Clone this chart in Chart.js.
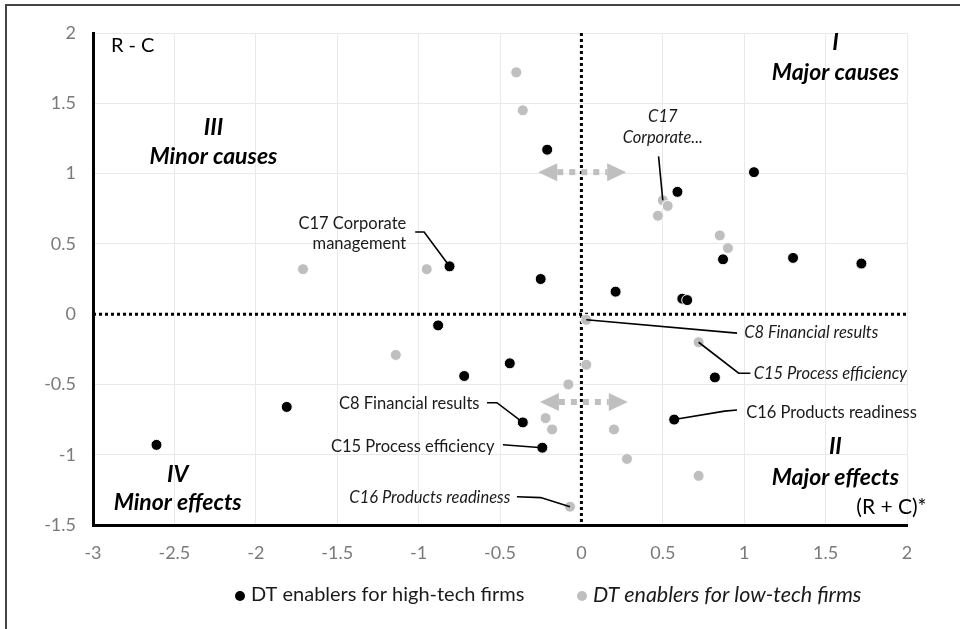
<!DOCTYPE html>
<html>
<head>
<meta charset="utf-8">
<title>DT enablers – cause/effect diagram</title>
<script src="https://cdn.jsdelivr.net/npm/chart.js@4/dist/chart.umd.min.js"></script>
<style>
  html, body { margin: 0; padding: 0; background: #fff; }
  #wrap { position: relative; width: 960px; height: 629px; }
</style>
</head>
<body>
<div id="wrap"><canvas id="c"></canvas></div>
<script>
// ----- data: (R + C) on x, (R - C) on y -----
const highTechX = [-0.21, -0.81, -0.25, 0.21, 0.59, 1.06, 0.87, 1.30, 1.72, 0.62,
                   0.65, -0.88, -0.44, -0.72, -0.36, -0.24, 0.82, 0.57, -2.61, -1.81];
const highTechY = [1.17, 0.34, 0.25, 0.16, 0.87, 1.01, 0.39, 0.40, 0.36, 0.11,
                   0.10, -0.08, -0.35, -0.44, -0.77, -0.95, -0.45, -0.75, -0.93, -0.66];

const lowTechX = [-0.40, -0.36, -0.95, -1.71, 0.50, 0.53, 0.47, 0.85, 0.90, 0.03,
                  -1.14, 0.03, -0.08, -0.22, -0.18, 0.20, -0.07, 0.72, 0.28, 0.72];
const lowTechY = [1.72, 1.45, 0.32, 0.32, 0.81, 0.77, 0.70, 0.56, 0.47, -0.04,
                  -0.29, -0.36, -0.50, -0.74, -0.82, -0.82, -1.37, -0.20, -1.03, -1.15];

const seriesNames = ['DT enablers for high-tech firms', 'DT enablers for low-tech firms'];

const xTickValues = [-3, -2.5, -2, -1.5, -1, -0.5, 0, 0.5, 1, 1.5, 2];
const xTickLabels = ['-3', '-2.5', '-2', '-1.5', '-1', '-0.5', '0', '0.5', '1', '1.5', '2'];
const yTickValues = [-1.5, -1, -0.5, 0, 0.5, 1, 1.5, 2];
const yTickLabels = ['-1.5', '-1', '-0.5', '0', '0.5', '1', '1.5', '2'];

// quadrant captions (centre, in data units)
const quadrantLabels = [
  { lines: ['I', 'Major causes'],   x: 1.56,  y: [1.93, 1.72] },
  { lines: ['III', 'Minor causes'], x: -2.26, y: [1.33, 1.12] },
  { lines: ['II', 'Major effects'], x: 1.56,  y: [-0.94, -1.16] },
  { lines: ['IV', 'Minor effects'], x: -2.48, y: [-1.14, -1.34] }
];

// callouts: text anchor + leader path (data units)
const callouts = [
  { lines: ['C17 Corporate', 'management'], italic: false, align: 'right',
    x: -1.076, y: [0.643, 0.50],
    path: [[-1.021, 0.584], [-0.966, 0.584], [-0.81, 0.34]] },
  { lines: ['C17', 'Corporate...'], italic: true, align: 'center',
    x: 0.50, y: [1.407, 1.254],
    path: [[0.474, 1.122], [0.50, 0.81]] },
  { lines: ['C8 Financial results'], italic: true, align: 'left',
    x: 1.00, y: [-0.135],
    path: [[0.03, -0.04], [0.956, -0.135]] },
  { lines: ['C15 Process efficiency'], italic: true, align: 'left',
    x: 1.058, y: [-0.425],
    path: [[0.72, -0.20], [0.966, -0.42], [1.038, -0.42]] },
  { lines: ['C16 Products readiness'], italic: false, align: 'left',
    x: 1.012, y: [-0.698],
    path: [[0.57, -0.75], [0.88, -0.69], [0.956, -0.682]] },
  { lines: ['C8 Financial results'], italic: false, align: 'right',
    x: -0.626, y: [-0.639],
    path: [[-0.580, -0.63], [-0.519, -0.63], [-0.36, -0.77]] },
  { lines: ['C15 Process efficiency'], italic: false, align: 'right',
    x: -0.534, y: [-0.943],
    path: [[-0.482, -0.929], [-0.24, -0.95]] },
  { lines: ['C16 Products readiness'], italic: true, align: 'right',
    x: -0.437, y: [-1.303],
    path: [[-0.396, -1.299], [-0.25, -1.305], [-0.07, -1.37]] }
];

// two-headed dotted arrows (shift between firm types)
const arrows = [
  { x1: -0.265, x2: 0.275, y: 1.01 },
  { x1: -0.255, x2: 0.285, y: -0.625 }
];

const FONT = 'Lato, "Open Sans", sans-serif';
const BLACK = '#000000';
const GREY = '#bfbfbf';

const toPts = (xs, ys) => xs.map((x, i) => ({ x: x, y: ys[i] }));

const decorations = {
  id: 'decorations',
  beforeDraw(chart) {
    const ctx = chart.ctx;
    ctx.save();
    ctx.fillStyle = '#fff';
    ctx.fillRect(0, 0, chart.width, chart.height);
    // outer frame
    ctx.strokeStyle = '#444';
    ctx.lineWidth = 2;
    ctx.beginPath();
    ctx.moveTo(6, chart.height + 2);
    ctx.lineTo(6, 5);
    ctx.lineTo(chart.width + 2, 5);
    ctx.stroke();
    ctx.restore();
  },
  beforeDatasetsDraw(chart) {
    const ctx = chart.ctx, xs = chart.scales.x, ys = chart.scales.y;
    ctx.save();
    // dotted zero lines
    ctx.strokeStyle = '#000';
    ctx.lineWidth = 3;
    ctx.setLineDash([3, 3]);
    const x0 = xs.getPixelForValue(0), y0 = ys.getPixelForValue(0);
    ctx.beginPath();
    ctx.moveTo(x0, ys.getPixelForValue(ys.max));
    ctx.lineTo(x0, ys.getPixelForValue(ys.min));
    ctx.moveTo(xs.getPixelForValue(xs.min), y0);
    ctx.lineTo(xs.getPixelForValue(xs.max), y0);
    ctx.stroke();
    ctx.setLineDash([]);

    // grey arrows
    arrows.forEach(a => {
      const L = xs.getPixelForValue(a.x1), R = xs.getPixelForValue(a.x2), Y = ys.getPixelForValue(a.y);
      const head = 19, half = 9;
      ctx.fillStyle = GREY;
      ctx.strokeStyle = GREY;
      ctx.lineWidth = 6;
      ctx.setLineDash([6, 6]);
      ctx.beginPath();
      ctx.moveTo(L + head, Y);
      ctx.lineTo(R - head, Y);
      ctx.stroke();
      ctx.setLineDash([]);
      ctx.beginPath();
      ctx.moveTo(L, Y); ctx.lineTo(L + head, Y - half); ctx.lineTo(L + head, Y + half); ctx.closePath();
      ctx.fill();
      ctx.beginPath();
      ctx.moveTo(R, Y); ctx.lineTo(R - head, Y - half); ctx.lineTo(R - head, Y + half); ctx.closePath();
      ctx.fill();
    });
    ctx.restore();
  },
  afterDatasetsDraw(chart) {
    const ctx = chart.ctx, xs = chart.scales.x, ys = chart.scales.y;
    ctx.save();
    // leaders
    ctx.strokeStyle = '#000';
    ctx.lineWidth = 1.6;
    callouts.forEach(c => {
      ctx.beginPath();
      c.path.forEach((p, i) => {
        const px = xs.getPixelForValue(p[0]), py = ys.getPixelForValue(p[1]);
        if (i === 0) ctx.moveTo(px, py); else ctx.lineTo(px, py);
      });
      ctx.stroke();
    });
    // callout text
    ctx.fillStyle = '#1a1a1a';
    ctx.textBaseline = 'middle';
    callouts.forEach(c => {
      ctx.font = (c.italic ? 'italic ' : '') + '16.5px ' + FONT;
      ctx.textAlign = c.align;
      c.lines.forEach((t, i) => {
        ctx.fillText(t, xs.getPixelForValue(c.x), ys.getPixelForValue(c.y[i]));
      });
    });
    // quadrant captions
    ctx.fillStyle = '#000';
    ctx.textAlign = 'center';
    ctx.font = 'italic bold 23px ' + FONT;
    quadrantLabels.forEach(q => {
      q.lines.forEach((t, i) => {
        ctx.fillText(t, xs.getPixelForValue(q.x), ys.getPixelForValue(q.y[i]));
      });
    });
    // axis captions
    ctx.fillStyle = '#000';
    ctx.font = '20px ' + FONT;
    ctx.textAlign = 'left';
    ctx.fillText('R - C', xs.getPixelForValue(-2.89), ys.getPixelForValue(1.91));
    ctx.font = '21px ' + FONT;
    ctx.textAlign = 'right';
    ctx.fillText('(R + C)*', xs.getPixelForValue(2.12), ys.getPixelForValue(-1.376));
    ctx.restore();
  },
  afterDraw(chart) {
    // legend
    const ctx = chart.ctx;
    const ds = chart.data.datasets;
    const items = [
      { x: 240, italic: false, size: 20 },
      { x: 582, italic: true, size: 21.5 }
    ];
    const y = 595;
    ctx.save();
    ctx.textBaseline = 'middle';
    ctx.textAlign = 'left';
    items.forEach((it, i) => {
      ctx.fillStyle = ds[i].backgroundColor;
      ctx.beginPath();
      ctx.arc(it.x, y + 1, 5, 0, Math.PI * 2);
      ctx.fill();
      ctx.fillStyle = '#1a1a1a';
      ctx.font = (it.italic ? 'italic ' : '') + it.size + 'px ' + FONT;
      ctx.fillText(ds[i].label, it.x + 11, y);
    });
    ctx.restore();
  }
};

new Chart(document.getElementById('c'), {
  type: 'scatter',
  data: {
    datasets: [
      { label: seriesNames[0], data: toPts(highTechX, highTechY),
        backgroundColor: BLACK, borderColor: '#ffffff', borderWidth: 1,
        pointRadius: 5.5, pointHoverRadius: 5.5 },
      { label: seriesNames[1], data: toPts(lowTechX, lowTechY),
        backgroundColor: GREY, borderColor: '#ffffff', borderWidth: 1,
        pointRadius: 5.5, pointHoverRadius: 5.5 }
    ]
  },
  options: {
    responsive: true,
    maintainAspectRatio: false,
    animation: false,
    layout: { padding: { top: 33, right: 53, bottom: 60, left: 0 } },
    plugins: {
      legend: { display: false },
      tooltip: { enabled: false }
    },
    scales: {
      x: {
        type: 'linear', min: -3, max: 2,
        afterFit: s => { s.height = 44; },
        afterBuildTicks: s => { s.ticks = xTickValues.map(v => ({ value: v })); },
        ticks: {
          padding: 17, color: '#7a7a7a',
          font: { family: FONT, size: 18 },
          maxRotation: 0,
          callback: v => xTickLabels[xTickValues.indexOf(v)]
        },
        grid: {
          drawTicks: false,
          color: c => (c.tick && c.tick.value === 0) ? 'rgba(0,0,0,0)' : '#e9e9e9',
          lineWidth: 1
        },
        border: { display: true, color: '#000', width: 3 }
      },
      y: {
        type: 'linear', min: -1.5, max: 2,
        afterFit: s => { s.width = 93; },
        afterBuildTicks: s => { s.ticks = yTickValues.map(v => ({ value: v })); },
        ticks: {
          padding: 17, color: '#7a7a7a',
          font: { family: FONT, size: 18 },
          callback: v => yTickLabels[yTickValues.indexOf(v)]
        },
        grid: {
          drawTicks: false,
          color: c => (c.tick && c.tick.value === 0) ? 'rgba(0,0,0,0)' : '#e9e9e9',
          lineWidth: 1
        },
        border: { display: true, color: '#000', width: 3 }
      }
    }
  },
  plugins: [decorations]
});
</script>
</body>
</html>
